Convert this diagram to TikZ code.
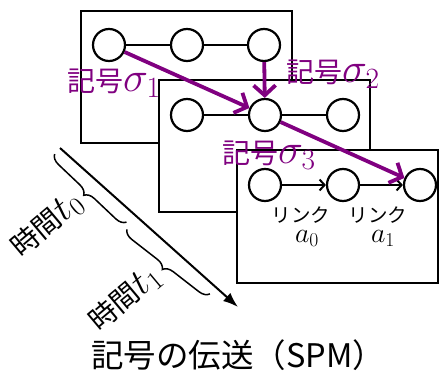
\RequirePackage{fix-cm}
\documentclass[tikz,border=0pt]{standalone}
\usepackage{fontspec}
\newfontfamily\cjk{Noto Sans CJK JP}
\usetikzlibrary{arrows.meta,decorations.pathreplacing}
\definecolor{sympurple}{RGB}{128,0,128}
\tikzset{
  panel/.style={draw, line width=2.5pt, fill=white},
  state/.style={circle, draw, line width=2.2pt, minimum size=32pt, inner sep=0pt, fill=white},
  link/.style={line width=2pt},
  linkarrow/.style={line width=2pt, -{Straight Barb[length=5pt,width=11pt]}},
  symarrow/.style={draw=sympurple, line width=3.8pt, -{Straight Barb[length=10pt,width=22pt]}},
  symlabel/.style={text=sympurple, anchor=base west, inner sep=0pt},
  linklabel/.style={anchor=base, inner sep=0pt},
  timearrow/.style={line width=2pt, -{Latex[length=15pt,width=11pt]}},
  timebrace/.style={decorate, decoration={brace, amplitude=10pt, aspect=0.5}, line width=1.5pt},
  timelabel/.style={rotate=40, inner sep=0pt}
}
\newcommand{\cjkbig}[1]{{\cjk\fontsize{28}{30}\selectfont #1}}
\newcommand{\mathbig}[1]{{\fontsize{42}{44}\selectfont$#1$}}
\newcommand{\mathtime}[1]{{\fontsize{38}{40}\selectfont$#1$}}
\newcommand{\cjkmid}[1]{{\cjk\fontsize{19.5}{21}\selectfont #1}}
\newcommand{\mathmid}[1]{{\fontsize{28}{30}\selectfont$#1$}}
\begin{document}
\begin{tikzpicture}[x=1pt, y=-1pt]
\useasboundingbox (0,0) rectangle (440,378);

% panel 1
\draw[panel] (81,11) rectangle (292,143);
\node[state] (a1) at (109,45) {};
\node[state] (a2) at (187,45) {};
\node[state] (a3) at (264,45) {};
\draw[link] (a1) -- (a2);
\draw[link] (a2) -- (a3);

% panel 2
\draw[panel] (159,80) rectangle (370,212);
\node[state] (b1) at (187,115) {};
\node[state] (b2) at (265,115) {};
\node[state] (b3) at (343,115) {};
\draw[link] (b1) -- (b2);
\draw[link] (b2) -- (b3);

% panel 3
\draw[panel] (237,150) rectangle (438,283);
\node[state] (c1) at (265,185) {};
\node[state] (c2) at (343,185) {};
\node[state] (c3) at (420,185) {};
\draw[linkarrow] (c1) -- (c2);
\draw[linkarrow] (c2) -- (c3);

\node[linklabel] (l0) at (301,222) {\cjkmid{リンク}};
\node[linklabel] (m0) at (307,242) {\mathmid{a_0}};
\node[linklabel] (l1) at (378,222) {\cjkmid{リンク}};
\node[linklabel] (m1) at (383,242) {\mathmid{a_1}};

% symbol transmission arrows
\draw[symarrow] (a1) -- (b2);
\draw[symarrow] (a3) -- (b2);
\draw[symarrow] (b2) -- (c3);

\node[symlabel] (s1) at (67,91) {\cjkbig{記号}\mathbig{\sigma_1}};
\node[symlabel] (s2) at (286,82) {\cjkbig{記号}\mathbig{\sigma_2}};
\node[symlabel] (s3) at (222,163) {\cjkbig{記号}\mathbig{\sigma_3}};

% time axis
\coordinate (ts) at (60,148);
\coordinate (te) at (238,307);
\draw[timearrow] (ts) -- (te);

\coordinate (b1s) at (126.5,222.1);
\coordinate (b1e) at (54.6,154.0);
\coordinate (b2s) at (209.9,293.9);
\coordinate (b2e) at (126.9,229.3);
\draw[timebrace] (b1s) -- (b1e);
\draw[timebrace] (b2s) -- (b2e);

\node[timelabel] (t0) at (47,225) {\cjkbig{時間}\mathtime{t_0}};
\node[timelabel] (t1) at (125,299) {\cjkbig{時間}\mathtime{t_1}};

% caption
\node[anchor=base, inner sep=0pt] (cap) at (238,367) {{\cjk\fontsize{32.5}{34}\selectfont 記号の伝送（SPM）}};
\end{tikzpicture}
\end{document}
